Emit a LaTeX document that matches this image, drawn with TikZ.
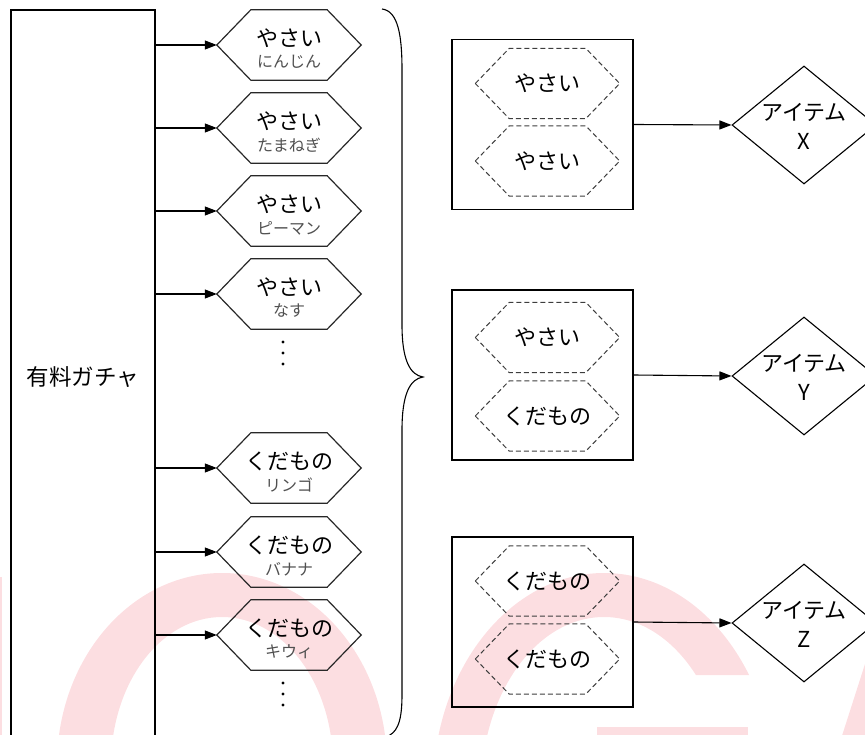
\documentclass[tikz,border=0pt]{standalone}
\usepackage{fontspec}
\setmainfont{Noto Sans CJK JP}
\usetikzlibrary{arrows.meta,shapes.geometric}
\definecolor{wm}{RGB}{252,222,225}
\definecolor{subgray}{RGB}{80,80,80}
\definecolor{edge}{RGB}{40,40,40}
\newcommand{\hexshape}[3]{%
  \node[hexcore] (#1) at #2 {};
  \draw[#3] (#1.west) -- ([xshift=34pt]#1.north west) -- ([xshift=-34pt]#1.north east) -- (#1.east) -- ([xshift=-34pt]#1.south east) -- ([xshift=34pt]#1.south west) -- cycle;}
\begin{document}
\begin{tikzpicture}[x=1pt,y=-1pt,
  hexcore/.style={minimum width=144pt, minimum height=70pt, inner sep=0pt, draw=none},
  hexline/.style={draw=edge, line width=1.2pt, line join=miter},
  dashhex/.style={draw=edge!90, line width=1pt, dash pattern=on 5pt off 3pt},
  maintxt/.style={font=\fontsize{22pt}{26pt}\selectfont, inner sep=0pt},
  subtxt/.style={font=\fontsize{16pt}{18pt}\selectfont, text=subgray, inner sep=0pt},
  dtxt/.style={font=\fontsize{22pt}{29pt}\selectfont, inner sep=0pt, align=center},
  arr/.style={-{Triangle[length=12pt,width=9pt]}, line width=1.1pt},
  boxst/.style={draw, line width=1.1pt, minimum width=181pt, minimum height=170pt, inner sep=0pt},
  diam/.style={diamond, draw, line width=1.1pt, minimum width=144pt, minimum height=118pt, inner sep=0pt},
  dotst/.style={circle, fill, inner sep=0pt, minimum size=3.2pt}]
\useasboundingbox (0,0) rectangle (865,735);
\clip (0,0) rectangle (865,735);
% watermark
\fill[wm, even odd rule] (222,765) ellipse [x radius=165pt, y radius=192pt] (222,765) ellipse [x radius=111pt, y radius=148pt];
\begin{scope}
\clip (0,0) -- (865,0) -- (865,675) -- (650,675) -- (650,745) -- (0,745) -- cycle;
\fill[wm, even odd rule] (604,790) ellipse [x radius=171pt, y radius=217pt] (604,790) ellipse [x radius=123pt, y radius=173pt];
\end{scope}
\fill[wm] (597,727) rectangle (748,745);
\fill[wm] (840,742) -- (865,664) -- (865,742) -- cycle;
\fill[wm] (0,577) rectangle (2,745);
% left box
\node[draw, line width=1.1pt, minimum width=144pt, minimum height=735pt, inner sep=0pt, font=\fontsize{22.5pt}{26pt}\selectfont] (gacha) at (83,377.5) {有料ガチャ};
% hexagons
\hexshape{h1}{(289,45)}{hexline}
\hexshape{h2}{(289,128)}{hexline}
\hexshape{h3}{(289,211)}{hexline}
\hexshape{h4}{(289,294)}{hexline}
\hexshape{h5}{(289,468)}{hexline}
\hexshape{h6}{(289,552)}{hexline}
\hexshape{h7}{(289,635)}{hexline}
\node[maintxt] (m1) at ([yshift=7pt]h1.center) {やさい};
\node[subtxt] (s1) at ([yshift=-17pt]h1.center) {にんじん};
\node[maintxt] (m2) at ([yshift=7pt]h2.center) {やさい};
\node[subtxt] (s2) at ([yshift=-17pt]h2.center) {たまねぎ};
\node[maintxt] (m3) at ([yshift=7pt]h3.center) {やさい};
\node[subtxt] (s3) at ([yshift=-17pt]h3.center) {ピーマン};
\node[maintxt] (m4) at ([yshift=7pt]h4.center) {やさい};
\node[subtxt] (s4) at ([yshift=-17pt]h4.center) {なす};
\node[maintxt] (m5) at ([yshift=7pt]h5.center) {くだもの};
\node[subtxt] (s5) at ([yshift=-17pt]h5.center) {リンゴ};
\node[maintxt] (m6) at ([yshift=7pt]h6.center) {くだもの};
\node[subtxt] (s6) at ([yshift=-17pt]h6.center) {バナナ};
\node[maintxt] (m7) at ([yshift=7pt]h7.center) {くだもの};
\node[subtxt] (s7) at ([yshift=-17pt]h7.center) {キウィ};
\foreach \h in {h1,h2,h3,h4,h5,h6,h7} {\draw[arr] (\h.west -| gacha.east) -- (\h.west);}
% dots
\node[dotst] (da1) at (283,342) {};
\node[dotst] (da2) at (283,353) {};
\node[dotst] (da3) at (283,364) {};
\node[dotst] (db1) at (283,683) {};
\node[dotst] (db2) at (283,694) {};
\node[dotst] (db3) at (283,705) {};
% brace
\draw[line width=1.1pt] (382,9) .. controls (398,11) and (402,35) .. (402,70) -- (402,325) .. controls (402,360) and (410,375) .. (423,377) .. controls (410,379) and (402,394) .. (402,430) -- (402,695) .. controls (402,725) and (396,733) .. (386,737);
% combination boxes
\node[boxst] (b1) at (542.5,124.5) {};
\node[boxst] (b2) at (542.5,375) {};
\node[boxst] (b3) at (542.5,622) {};
\hexshape{c1}{(547.5,83.5)}{dashhex}
\hexshape{c2}{(547.5,161)}{dashhex}
\hexshape{c3}{(547.5,337.5)}{dashhex}
\hexshape{c4}{(547.5,416)}{dashhex}
\hexshape{c5}{(547.5,581)}{dashhex}
\hexshape{c6}{(547.5,659)}{dashhex}
\node[maintxt] (ct1) at (c1) {やさい};
\node[maintxt] (ct2) at (c2) {やさい};
\node[maintxt] (ct3) at (c3) {やさい};
\node[maintxt] (ct4) at (c4) {くだもの};
\node[maintxt] (ct5) at (c5) {くだもの};
\node[maintxt] (ct6) at (c6) {くだもの};
% items
\node[diam] (d1) at (804,125) {};
\node[diam] (d2) at (804,376) {};
\node[diam] (d3) at (804,623) {};
\node[dtxt] (dt1) at ([yshift=-1pt]d1.center) {アイテム\\X};
\node[dtxt] (dt2) at ([yshift=-1pt]d2.center) {アイテム\\Y};
\node[dtxt] (dt3) at ([yshift=-1pt]d3.center) {アイテム\\Z};
\draw[arr] (b1.east) -- (d1.west);
\draw[arr] (b2.east) -- (d2.west);
\draw[arr] (b3.east) -- (d3.west);
\end{tikzpicture}
\end{document}
